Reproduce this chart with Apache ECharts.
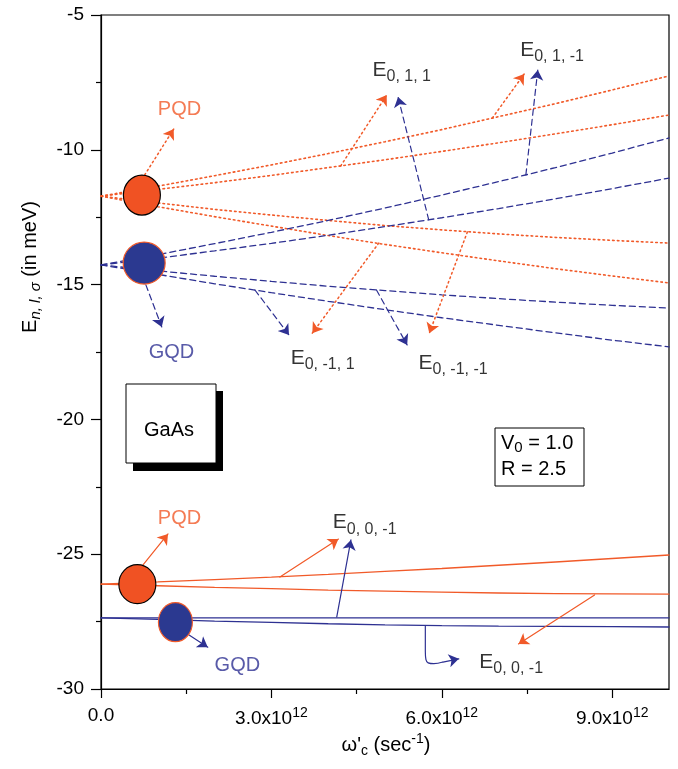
<!DOCTYPE html>
<html><head><meta charset="utf-8">
<script src="https://cdn.jsdelivr.net/npm/echarts@6/dist/echarts.min.js"></script>
<style>html,body{margin:0;padding:0;background:#fff}#c{width:678px;height:769px}</style>
</head><body><div id="c"></div>
<script>
// x values in units of 1e12 s^-1
const omega = [0,1,2,3,4,5,6,7,8,9,10];
// PQD (orange, dotted) levels
const pqdUp1   = [-11.72,-11.35,-10.96,-10.56,-10.14,-9.70,-9.25,-8.77,-8.29,-7.78,-7.26];
const pqdUp2   = [-11.72,-11.47,-11.22,-10.95,-10.66,-10.37,-10.06,-9.74,-9.41,-9.07,-8.71];
const pqdDown1 = [-11.72,-11.97,-12.21,-12.42,-12.62,-12.81,-12.97,-13.12,-13.25,-13.36,-13.46];
const pqdDown2 = [-11.72,-12.11,-12.48,-12.83,-13.18,-13.51,-13.82,-14.12,-14.41,-14.68,-14.94];
// GQD (blue, dashed) levels
const gqdUp1   = [-14.27,-13.89,-13.48,-13.06,-12.62,-12.16,-11.68,-11.18,-10.66,-10.12,-9.56];
const gqdUp2   = [-14.27,-14.02,-13.75,-13.47,-13.17,-12.85,-12.52,-12.18,-11.82,-11.44,-11.05];
const gqdDown1 = [-14.27,-14.49,-14.69,-14.88,-15.06,-15.22,-15.38,-15.52,-15.65,-15.77,-15.87];
const gqdDown2 = [-14.27,-14.62,-14.97,-15.30,-15.62,-15.93,-16.23,-16.51,-16.79,-17.06,-17.31];
// ground-state (solid) levels
const pqdGround1 = [-26.11,-26.03,-25.94,-25.85,-25.75,-25.64,-25.53,-25.41,-25.29,-25.16,-25.03];
const pqdGround2 = [-26.11,-26.17,-26.23,-26.28,-26.33,-26.37,-26.41,-26.44,-26.46,-26.47,-26.48];
const gqdGround1 = [-27.36,-27.36,-27.36,-27.36,-27.36,-27.36,-27.36,-27.36,-27.36,-27.36,-27.36];
const gqdGround2 = [-27.36,-27.42,-27.48,-27.53,-27.58,-27.62,-27.65,-27.67,-27.68,-27.69,-27.70];

// axis ticks
const xTickValues = [0,3,6,9];
const xTickLabels = ['0.0','3.0x10','6.0x10','9.0x10'];
const xTickExps   = ['','12','12','12'];
const xMinorTicks = [1.5,4.5,7.5];

// dots marking the quantum dots (data coords)
const pqdDots = [[0.72,-11.68],[0.64,-26.11]];
const gqdDots = [[0.76,-14.20],[1.31,-27.52]];

// annotation arrows [from, to] in data coords
const arrowsOrangeDotted = [
  [[0.77,-10.93],[1.28,-9.23]],
  [[4.22,-10.60],[5.03,-7.97]],
  [[6.89,-8.82],[7.45,-7.19]],
  [[4.89,-13.46],[3.72,-16.80]],
  [[6.45,-13.05],[5.78,-16.80]]
];
const arrowsBlueDashed = [
  [[5.77,-12.60],[5.23,-8.04]],
  [[7.48,-10.93],[7.69,-7.04]],
  [[0.79,-15.01],[1.07,-16.57]],
  [[2.71,-15.20],[3.31,-16.87]],
  [[4.85,-15.20],[5.39,-17.24]]
];
const arrowsOrangeSolid = [
  [[0.74,-25.40],[1.18,-24.25]],
  [[3.15,-25.85],[4.18,-24.44]],
  [[8.69,-26.51],[7.35,-28.33]]
];
const arrowsBlueSolid = [
  [[4.15,-27.33],[4.40,-24.47]],
  [[1.51,-27.94],[1.88,-28.45]],
  [[6.02,-29.00],[6.30,-28.88]]
];
const hookPath = [[5.71,-27.66],[5.71,-28.60],[5.72,-28.90],[5.76,-29.03],[5.86,-29.06],[6.02,-29.00]];

// text labels: [x, y, kind, text, subscript]
const labelItems = [
  [1.00,-8.52,'pqd','PQD',''],
  [4.78,-7.04,'e','E','0, 1, 1'],
  [7.38,-6.30,'e','E','0, 1, -1'],
  [0.84,-17.50,'gqd','GQD',''],
  [3.34,-17.72,'e','E','0, -1, 1'],
  [5.59,-17.91,'e','E','0, -1, -1'],
  [1.00,-23.66,'pqd','PQD',''],
  [4.08,-23.81,'e','E','0, 0, -1'],
  [2.00,-29.11,'gqd','GQD',''],
  [6.66,-29.00,'e','E','0, 0, -1']
];

const ORANGE = '#F15A29';
const BLUE = '#2E3192';
const FONT = 'Liberation Sans, Arial, sans-serif';
const DOT = [1.6,3.2];
const DASH = [6,4];

function zip(ys){ return omega.map((x,i)=>[x, ys[i]]); }
function curve(ys, color, type, w){
  return {type:'line', data: zip(ys), showSymbol:false, symbol:'none', silent:true,
    lineStyle:{color, width:w||1.3, type, cap:'round'}, z:2};
}
function arrows(list, color, type, w){
  return {type:'lines', coordinateSystem:'cartesian2d', silent:true,
    symbol:['none','arrow'], symbolSize:10,
    data: list.map(c=>({coords:c})),
    lineStyle:{color, width:w||1.2, type, opacity:1, cap:'round'}, z:3};
}

const chart = echarts.init(document.getElementById('c'), null, {renderer:'canvas'});
const richE = {
  e:{fontSize:21, fontFamily:FONT, color:'#000'},
  s:{fontSize:16, fontFamily:FONT, color:'#000', padding:[14,0,0,0]},
  pqd:{fontSize:20, fontFamily:FONT, color:ORANGE},
  gqd:{fontSize:20, fontFamily:FONT, color:BLUE}
};

chart.setOption({
  animation:false,
  backgroundColor:'#fff',
  grid:{left:101, right:9, top:15, bottom:80, show:true, borderColor:'#000', borderWidth:1.2, backgroundColor:'transparent'},
  xAxis:[{
    type:'value', min:0, max:10, interval:3,
    axisLine:{show:true, onZero:false, lineStyle:{color:'#000', width:1.2}},
    axisTick:{show:true, length:9, customValues:xTickValues, lineStyle:{color:'#000', width:1.2}},
    axisLabel:{show:true, customValues:xTickValues, margin:17, color:'#000',
      formatter:(v)=>{const i=xTickValues.indexOf(v); if(i<0) return ''; return xTickExps[i] ? '{m|'+xTickLabels[i]+'}{p|'+xTickExps[i]+'}' : '{m|'+xTickLabels[i]+'}';},
      rich:{m:{fontSize:19, fontFamily:FONT, color:'#000'}, p:{fontSize:14, fontFamily:FONT, color:'#000', padding:[0,0,12,0]}}},
    splitLine:{show:false}
  },{
    type:'value', min:0, max:10, position:'bottom',
    axisLine:{show:false}, axisLabel:{show:false}, splitLine:{show:false},
    axisTick:{show:true, length:5, customValues:xMinorTicks, lineStyle:{color:'#000', width:1.2}}
  }],
  yAxis:{
    type:'value', min:-30, max:-5, interval:5,
    axisLine:{show:true, onZero:false, lineStyle:{color:'#000', width:1.2}},
    axisTick:{show:true, length:10, lineStyle:{color:'#000', width:1.2}},
    minorTick:{show:true, splitNumber:2, length:5, lineStyle:{color:'#000', width:1.2}},
    axisLabel:{fontSize:19, fontFamily:FONT, color:'#000', margin:17},
    splitLine:{show:false}, minorSplitLine:{show:false}
  },
  graphic:[
    {type:'rect', shape:{x:133, y:391, width:90, height:80}, style:{fill:'#000'}, z:10},
    {type:'rect', shape:{x:126, y:384, width:90, height:79}, style:{fill:'#fff', stroke:'#000', lineWidth:1}, z:11},
    {type:'text', x:169, y:430, style:{text:'GaAs', fontSize:20, fontFamily:FONT, fill:'#000', align:'center', verticalAlign:'middle'}, z:12},
    {type:'rect', shape:{x:495, y:428, width:89, height:58}, style:{fill:'#fff', stroke:'#000', lineWidth:1}, z:11},
    {type:'text', x:501, y:443, style:{text:'{a|V}{s|0}{a| = 1.0}', rich:{a:{fontSize:20, fontFamily:FONT, fill:'#000'}, s:{fontSize:15, fontFamily:FONT, fill:'#000', padding:[10,0,0,0]}}, align:'left', verticalAlign:'middle'}, z:12},
    {type:'text', x:501, y:469, style:{text:'R = 2.5', fontSize:20, fontFamily:FONT, fill:'#000', align:'left', verticalAlign:'middle'}, z:12},
    {type:'text', x:30, y:267, rotation:Math.PI/2,
      style:{text:'{e|E}{i|n, l, σ}{t| (in meV)}', align:'center', verticalAlign:'middle',
        rich:{e:{fontSize:20, fontFamily:FONT, fill:'#000'}, i:{fontSize:15, fontFamily:FONT, fontStyle:'italic', fill:'#000', padding:[12,0,0,0]}, t:{fontSize:20, fontFamily:FONT, fill:'#000'}}}, z:12},
    {type:'text', x:386, y:745,
      style:{text:"{t|ω'}{s|c}{t| (sec}{p|-1}{t|)}", align:'center', verticalAlign:'middle',
        rich:{t:{fontSize:20, fontFamily:FONT, fill:'#000'}, s:{fontSize:14, fontFamily:FONT, fill:'#000', padding:[12,0,0,0]}, p:{fontSize:14, fontFamily:FONT, fill:'#000', padding:[0,0,12,0]}}}, z:12}
  ],
  series:[
    curve(pqdUp1, ORANGE, DOT, 1.6),
    curve(pqdUp2, ORANGE, DOT, 1.6),
    curve(pqdDown1, ORANGE, DOT, 1.6),
    curve(pqdDown2, ORANGE, DOT, 1.6),
    curve(gqdUp1, BLUE, DASH),
    curve(gqdUp2, BLUE, DASH),
    curve(gqdDown1, BLUE, DASH),
    curve(gqdDown2, BLUE, DASH),
    curve(pqdGround1, ORANGE, 'solid'),
    curve(pqdGround2, ORANGE, 'solid'),
    curve(gqdGround1, BLUE, 'solid'),
    curve(gqdGround2, BLUE, 'solid'),
    arrows(arrowsOrangeDotted, ORANGE, DOT, 1.5),
    arrows(arrowsBlueDashed, BLUE, DASH),
    arrows(arrowsOrangeSolid, ORANGE, 'solid'),
    arrows(arrowsBlueSolid, BLUE, 'solid'),
    {type:'line', data:hookPath, smooth:0.4, showSymbol:false, symbol:'none', silent:true, lineStyle:{color:BLUE, width:1.2}, z:3},
    {type:'scatter', data:[{value:pqdDots[0], symbolSize:[37,40]},{value:pqdDots[1], symbolSize:[37,39]}], symbol:'circle', silent:true,
      itemStyle:{color:'#F05223', borderColor:'#000', borderWidth:1.2, opacity:1}, z:5},
    {type:'scatter', data:[{value:gqdDots[0], symbolSize:[42,42]},{value:gqdDots[1], symbolSize:[34,39]}], symbol:'circle', silent:true,
      itemStyle:{color:'#2B3990', borderColor:ORANGE, borderWidth:1.2, opacity:1}, z:5},
    {type:'scatter', symbolSize:0, silent:true, z:6,
      data: labelItems.map(d=>({value:[d[0],d[1]], label:{formatter: d[2]==='e' ? '{e|'+d[3]+'}{s|'+d[4]+'}' : '{'+d[2]+'|'+d[3]+'}'}})),
      label:{show:true, position:'right', distance:0, rich:richE}}
  ]
});
</script>
</body></html>
